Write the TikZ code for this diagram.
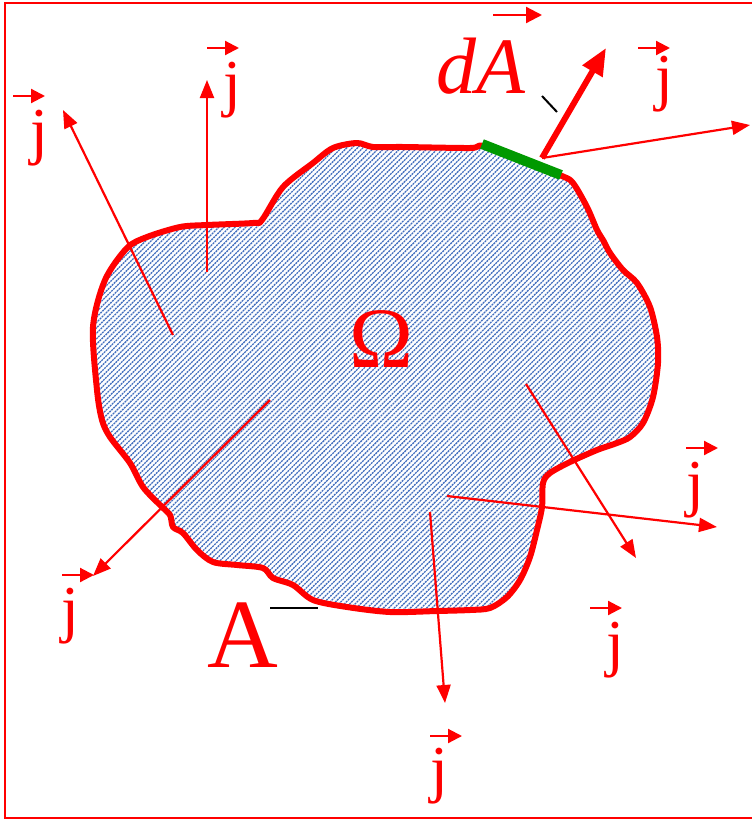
\documentclass[tikz,border=0pt]{standalone}
\usepackage{fontspec}
\setmainfont{Liberation Serif}
\usetikzlibrary{arrows.meta}
\definecolor{FluxRed}{HTML}{FF0000}
\definecolor{HatchBlue}{HTML}{4470BE}
\definecolor{PatchGreen}{HTML}{009900}
\definecolor{LeadBlack}{HTML}{000000}

\newcommand{\blobpath}{plot[smooth cycle,tension=0.5] coordinates {
  (93,327) (97,390) (102,420) (110,437) (130,463) (143,487) (160,505)
  (170,515) (173,527) (183,533) (197,550) (213,562) (237,565) (263,568)
  (273,578) (293,585) (313,600) (347,607) (390,612) (437,611) (470,610)
  (490,608) (507,597) (520,580) (530,557) (537,530) (542,507) (543,483)
  (550,473) (570,462) (597,450) (617,443) (630,437) (643,423) (653,397)
  (658,363) (657,337) (650,307) (637,283) (623,270) (610,253) (603,240)
  (597,230) (587,207) (573,183) (562,176) (522,160) (483,146) (470,148)
  (403,147) (373,147) (357,143) (333,148) (313,163) (283,187) (262,220)
  (253,223) (207,225) (180,227) (147,237) (127,248) (105,280)}}

\begin{document}
\begin{tikzpicture}[x=1pt,y=-1pt,>={Triangle[length=18pt,width=14pt]}]
  \tikzstyle{flux}=[->,color=FluxRed,line width=2.2pt]
  \tikzstyle{vecarr}=[-{Triangle[length=14pt,width=14pt]},color=FluxRed,line width=2.2pt]
  \tikzstyle{jlabel}=[text=FluxRed,inner sep=0pt,anchor=base,
    font=\fontsize{64}{64}\selectfont]
  \tikzstyle{leader}=[color=LeadBlack,line width=2pt]
  \useasboundingbox (0,0) rectangle (752,819);
  \clip (0,0) rectangle (752,819);
  \draw[FluxRed,line width=1.8pt] (5,3) rectangle (770,818);

  % hatched volume
  \begin{scope}
    \clip \blobpath;
    \foreach \hx in {365,370.4,...,1115}
      \draw[HatchBlue,line width=1.3pt,dash pattern=on 2pt off 0.8pt]
        (\hx-100,100) -- (\hx-660,660);
  \end{scope}
  \draw[FluxRed,line width=6pt,line join=round] \blobpath;

  % surface element and its normal
  \coordinate (dA1) at (482,144);
  \coordinate (dA2) at (561,175);
  \draw[PatchGreen,line width=10pt] (dA1) -- (dA2);
  \coordinate (n0) at (542,158);
  \coordinate (n1) at (606,48);
  \coordinate (t3) at (750,125);
  \draw[flux] (n0) -- (t3);
  \draw[-{Triangle[length=27pt,width=22pt]},color=FluxRed,line width=6pt] (n0) -- (n1);

  % flux arrows
  \coordinate (s1) at (173,335);  \coordinate (t1) at (63,110);
  \coordinate (s2) at (207,272);  \coordinate (t2) at (207,80);
  \coordinate (s4) at (270,400);  \coordinate (t4) at (93,576);
  \coordinate (s5) at (447,496);  \coordinate (t5) at (717,527);
  \coordinate (s6) at (526,384);  \coordinate (t6) at (636,558);
  \coordinate (s7) at (430,512);  \coordinate (t7) at (445,703);
  \draw[flux] (s1) -- (t1);
  \draw[flux] (s2) -- (t2);
  \draw[flux] (s4) -- (t4);
  \draw[flux] (s5) -- (t5);
  \draw[flux] (s6) -- (t6);
  \draw[flux] (s7) -- (t7);

  % labels
  \node[jlabel] (j1) at (39,152) {j};
  \draw[vecarr] ([shift={(-26,-56)}]j1.base) -- +(32,0);
  \node[jlabel] (j2) at (232,104) {j};
  \draw[vecarr] ([shift={(-25,-56)}]j2.base) -- +(32,0);
  \node[jlabel] (j3) at (664,98) {j};
  \draw[vecarr] ([shift={(-26,-50)}]j3.base) -- +(32,0);
  \node[jlabel] (j4) at (70,630) {j};
  \draw[vecarr] ([shift={(-8,-55)}]j4.base) -- +(32,0);
  \node[jlabel] (j5) at (695,504) {j};
  \draw[vecarr] ([shift={(-9,-56)}]j5.base) -- +(32,0);
  \node[jlabel] (j6) at (615,664) {j};
  \draw[vecarr] ([shift={(-25,-56)}]j6.base) -- +(32,0);
  \node[jlabel] (j7) at (439,790) {j};
  \draw[vecarr] ([shift={(-9,-54)}]j7.base) -- +(32,0);

  \node[text=FluxRed,inner sep=0pt,anchor=base west,
    font=\fontsize{80}{80}\selectfont\itshape] (dA) at (436,93) {dA};
  \draw[-{Triangle[length=16pt,width=16pt]},color=FluxRed,line width=2.2pt]
    ([shift={(57,-78)}]dA.base west) -- +(49,0);
  \node[text=FluxRed,inner sep=0pt,anchor=base,
    font=\fontsize{86}{86}\selectfont] (Omega) at (381,367) {Ω};
  \node[text=FluxRed,inner sep=0pt,anchor=base west,
    font=\fontsize{98}{98}\selectfont] (Abound) at (207,667) {A};

  % leader strokes
  \coordinate (la1) at (542,96);  \coordinate (la2) at (557,112);
  \coordinate (lb1) at (270,608); \coordinate (lb2) at (318,608);
  \draw[leader] (la1) -- (la2);
  \draw[leader] (lb1) -- (lb2);
\end{tikzpicture}
\end{document}
